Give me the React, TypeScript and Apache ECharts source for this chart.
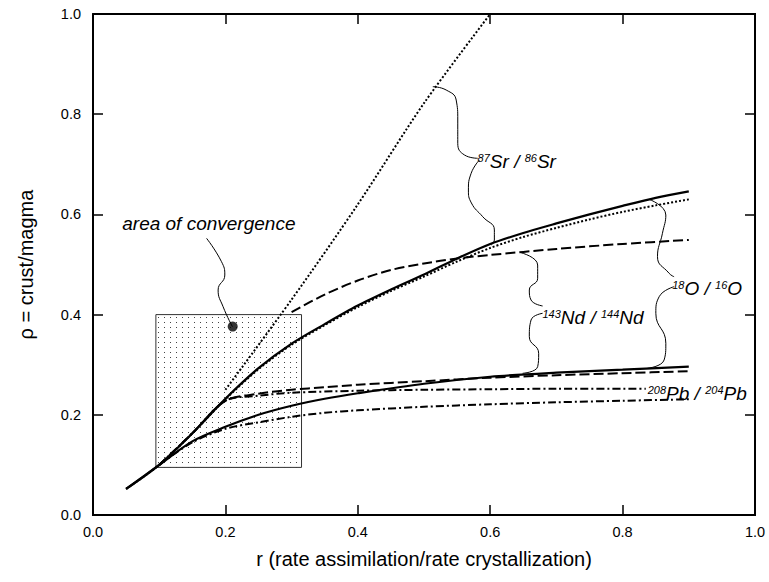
import React, { useEffect, useRef } from "react";
import * as echarts from "echarts";

const FONT = "Liberation Sans, Arial, sans-serif";

// main curves [r, rho]
const solidUpper = [[0.05,0.052],[0.1,0.1],[0.15,0.163],[0.2,0.232],[0.25,0.293],[0.3,0.342],[0.35,0.381],[0.4,0.418],[0.45,0.45],[0.5,0.48],[0.55,0.512],[0.6,0.541],[0.65,0.563],[0.7,0.582],[0.75,0.6],[0.8,0.617],[0.85,0.633],[0.9,0.646]];
const dottedCurve = [[0.05,0.052],[0.1,0.1],[0.15,0.163],[0.2,0.231],[0.25,0.291],[0.3,0.34],[0.35,0.379],[0.4,0.415],[0.45,0.447],[0.5,0.476],[0.55,0.506],[0.6,0.533],[0.65,0.555],[0.7,0.573],[0.75,0.59],[0.8,0.605],[0.85,0.618],[0.9,0.63]];
const steepDotted = [[0.2,0.25],[0.3,0.43],[0.4,0.62],[0.5,0.822],[0.6,1.0]];
const dashedUpper = [[0.3,0.405],[0.35,0.44],[0.4,0.468],[0.45,0.489],[0.5,0.502],[0.55,0.512],[0.6,0.519],[0.7,0.531],[0.8,0.541],[0.9,0.549]];
const solidLower = [[0.05,0.052],[0.1,0.1],[0.15,0.147],[0.2,0.176],[0.25,0.2],[0.3,0.218],[0.35,0.232],[0.4,0.243],[0.5,0.262],[0.6,0.276],[0.7,0.284],[0.8,0.29],[0.9,0.296]];
const dashedLower = [[0.1,0.1],[0.15,0.163],[0.2,0.228],[0.25,0.242],[0.3,0.25],[0.35,0.255],[0.4,0.26],[0.5,0.267],[0.6,0.274],[0.7,0.279],[0.8,0.283],[0.9,0.287]];
const dashDotUpper = [[0.1,0.1],[0.15,0.163],[0.2,0.228],[0.25,0.238],[0.3,0.244],[0.4,0.248],[0.5,0.25],[0.6,0.251],[0.7,0.252],[0.835,0.252]];
const dashDotLower = [[0.1,0.1],[0.15,0.145],[0.2,0.172],[0.25,0.185],[0.3,0.196],[0.35,0.204],[0.4,0.209],[0.5,0.216],[0.6,0.221],[0.7,0.225],[0.8,0.228],[0.9,0.231]];

// convergence box and point
const boxMin = [0.095, 0.095];
const boxMax = [0.315, 0.4];
const convergencePoint = [[0.211, 0.376]];

// annotation braces
const srBraceTop = [[0.5133,0.8549],[0.5335,0.8483],[0.5486,0.8283],[0.551,0.7884],[0.551,0.7419],[0.5611,0.7186],[0.5811,0.712]];
const srBraceBottom = [[0.5837,0.7086],[0.5712,0.682],[0.5671,0.6487],[0.5716,0.6228],[0.5887,0.5954],[0.6063,0.5689],[0.6063,0.5489],[0.6014,0.5389]];
const ndBraceTop = [[0.6466,0.5236],[0.6717,0.499],[0.6717,0.4724],[0.6591,0.4491],[0.6617,0.4291],[0.6792,0.4172]];
const ndBraceBottom = [[0.6792,0.4026],[0.6617,0.3892],[0.6591,0.3559],[0.6732,0.3227],[0.6717,0.296],[0.649,0.2828]];
const oBraceTop = [[0.8401,0.6301],[0.8653,0.5988],[0.8602,0.5623],[0.8527,0.5156],[0.8703,0.4824],[0.8778,0.4756]];
const oBraceBottom = [[0.8778,0.4557],[0.8552,0.4357],[0.8502,0.4026],[0.8653,0.3427],[0.8627,0.3094],[0.8376,0.2928]];
const areaPointer = [[0.1715,0.5523],[0.1941,0.5056],[0.1991,0.479],[0.189,0.4491],[0.1965,0.4158],[0.2107,0.3758]];

// label anchors
const srLabelAt = [0.581, 0.705];
const ndLabelAt = [0.679, 0.395];
const oLabelAt = [0.875, 0.453];
const pbLabelAt = [0.838, 0.243];
const areaLabelAt = [0.175, 0.581];

const isoLabels = [
  { at: srLabelAt, parts: [["87", "Sr / "], ["86", "Sr"]] },
  { at: ndLabelAt, parts: [["143", "Nd / "], ["144", "Nd"]] },
  { at: oLabelAt, parts: [["18", "O / "], ["16", "O"]] },
  { at: pbLabelAt, parts: [["208", "Pb / "], ["204", "Pb"]] },
];

function lineSeries(data: number[][], type: any, width = 2, z = 3) {
  return {
    type: "line",
    data,
    showSymbol: false,
    symbol: "none",
    smooth: 0.3,
    z,
    lineStyle: { color: "#000", width, type, cap: "butt" },
    silent: true,
  };
}

function braceSeries(data: number[][]) {
  return {
    type: "line",
    data,
    showSymbol: false,
    symbol: "none",
    smooth: 0.5,
    z: 4,
    lineStyle: { color: "#000", width: 1 },
    silent: true,
  };
}

function makeAxis(position: string, extra: any) {
  return {
    type: "value",
    position,
    min: 0,
    max: 1,
    interval: 0.2,
    splitLine: { show: false },
    axisLine: { show: true, onZero: false, lineStyle: { color: "#000", width: 2 } },
    axisTick: { show: true, inside: true, length: 10, lineStyle: { color: "#000", width: 1.5 } },
    ...extra,
  };
}

export default function App() {
  const ref = useRef<HTMLDivElement>(null);
  useEffect(() => {
    if (!ref.current) return;
    document.body.style.margin = "0";
    const chart = echarts.init(ref.current, undefined, { renderer: "svg" });

    const cv = document.createElement("canvas");
    cv.width = 6;
    cv.height = 5;
    const ctx = cv.getContext("2d")!;
    ctx.fillStyle = "#fff";
    ctx.fillRect(0, 0, 6, 5);
    ctx.fillStyle = "#444";
    ctx.fillRect(2, 2, 1, 1);

    const labelStyle = (margin: number) => ({
      fontFamily: FONT,
      fontSize: 14.5,
      color: "#000",
      margin,
      formatter: (v: number) => v.toFixed(1),
    });

    const option: any = {
      animation: false,
      backgroundColor: "#fff",
      grid: { left: 93, right: 14, top: 14, bottom: 67, containLabel: false },
      xAxis: [
        makeAxis("bottom", {
          name: "r (rate assimilation/rate crystallization)",
          nameLocation: "middle",
          nameGap: 34,
          nameTextStyle: { fontFamily: FONT, fontSize: 20, color: "#000" },
          axisLabel: labelStyle(9),
        }),
        makeAxis("top", { axisLabel: { show: false } }),
      ],
      yAxis: [
        makeAxis("left", {
          name: "\u03c1 = crust/magma",
          nameLocation: "middle",
          nameGap: 57,
          nameTextStyle: { fontFamily: FONT, fontSize: 20, color: "#000" },
          axisLabel: labelStyle(12),
        }),
        makeAxis("right", { axisLabel: { show: false } }),
      ],
      series: [
        {
          type: "line",
          data: [],
          z: 1,
          silent: true,
          markArea: {
            silent: true,
            itemStyle: { color: { image: cv, repeat: "repeat" }, borderColor: "#333", borderWidth: 1 },
            data: [[{ coord: boxMin }, { coord: boxMax }]],
          },
        },
        lineSeries(solidUpper, "solid", 2.2),
        lineSeries(dottedCurve, [2, 2], 2),
        lineSeries(steepDotted, [2, 2], 2),
        lineSeries(dashedUpper, [10, 4], 2),
        lineSeries(solidLower, "solid", 2.2),
        lineSeries(dashedLower, [10, 4], 2),
        lineSeries(dashDotUpper, [8, 3, 2, 3], 2),
        lineSeries(dashDotLower, [8, 3, 2, 3], 2),
        braceSeries(srBraceTop),
        braceSeries(srBraceBottom),
        braceSeries(ndBraceTop),
        braceSeries(ndBraceBottom),
        braceSeries(oBraceTop),
        braceSeries(oBraceBottom),
        braceSeries(areaPointer),
        {
          type: "scatter",
          data: convergencePoint,
          symbolSize: 10,
          itemStyle: { color: "#000" },
          z: 5,
          silent: true,
        },
      ],
    };
    chart.setOption(option);

    const toPx = (p: number[]) => chart.convertToPixel({ gridIndex: 0 }, p) as number[];
    const rich = {
      s: { fontFamily: FONT, fontSize: 11, fontStyle: "italic", fill: "#000", lineHeight: 11, padding: [0, 0, 7, 0] },
      m: { fontFamily: FONT, fontSize: 19, fontStyle: "italic", fill: "#000", lineHeight: 22 },
    };
    const graphics: any[] = isoLabels.map((l) => {
      const [px, py] = toPx(l.at);
      const text = l.parts.map(([sup, main]) => `{s|${sup}}{m|${main}}`).join("");
      return {
        type: "text",
        x: px,
        y: py,
        z: 10,
        silent: true,
        style: { text, rich, align: "left", verticalAlign: "middle", fill: "#000" },
      };
    });
    const [ax, ay] = toPx(areaLabelAt);
    graphics.push({
      type: "text",
      x: ax,
      y: ay,
      z: 10,
      silent: true,
      style: {
        text: "area of convergence",
        fontFamily: FONT,
        fontSize: 19,
        fontStyle: "italic",
        fill: "#000",
        align: "center",
        verticalAlign: "middle",
      },
    });
    const [x0, y0] = toPx([0, 1]);
    const [x1, y1] = toPx([1, 0]);
    graphics.push({
      type: "polyline",
      z: 30,
      silent: true,
      shape: { points: [[x0, y0], [x1, y0], [x1, y1], [x0, y1], [x0, y0]] },
      style: { stroke: "#000", lineWidth: 2, fill: null, lineJoin: "miter" },
    });
    chart.setOption({ graphic: graphics });

    return () => chart.dispose();
  }, []);
  return <div ref={ref} style={{ width: 769, height: 582 }} />;
}
